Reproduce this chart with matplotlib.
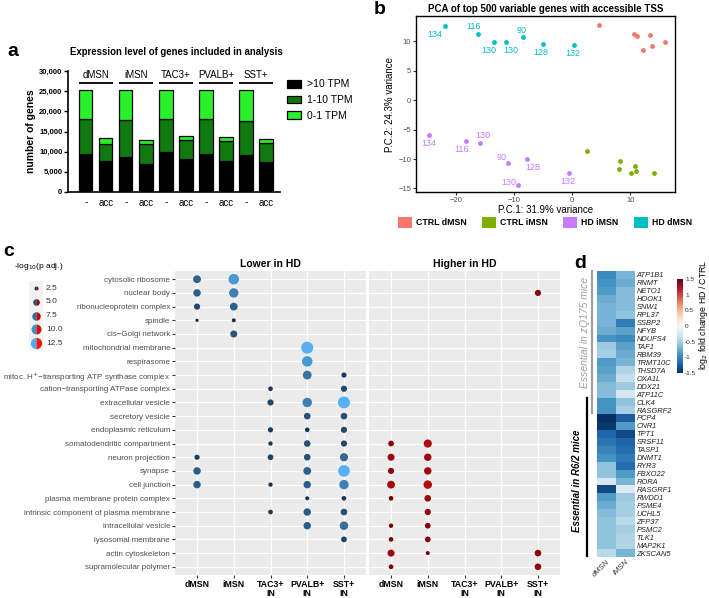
import numpy as np
import matplotlib
matplotlib.use("Agg")
import matplotlib.pyplot as plt
import matplotlib.ticker as ticker
from matplotlib.colors import LinearSegmentedColormap, Normalize
from matplotlib.lines import Line2D
from matplotlib.patches import Patch, Rectangle

plt.rcParams["font.family"] = ["Liberation Sans", "DejaVu Sans"]

W, H = 709, 598

def box(l, t, r, b):
    # pixel box (left, top, right, bottom) -> figure fraction rect
    return [l / W, 1 - b / H, (r - l) / W, (b - t) / H]

def fx(x):
    return x / W

def fy(y):
    return 1 - y / H

# ── a: expression level ───────────────────────────────────────────────────────
GROUPS = ["dMSN", "iMSN", "TAC3+", "PVALB+", "SST+"]
BAR_LABELS = ["-", "acc"] * 5
TPM_HIGH = [9400, 7700, 8700, 6900, 9900, 8300, 9400, 7750, 9100, 7400]
TPM_MID  = [8800, 4200, 9100, 5000, 8300, 4700, 8600, 4850, 8600, 4700]
TPM_LOW  = [7000, 1600, 7400, 1000, 7000, 1000, 7200, 1000, 7500, 1100]
TPM_NAMES  = [">10 TPM", "1-10 TPM", "0-1 TPM"]
TPM_COLORS = ["#000000", "#107A10", "#2BEF2B"]

# ── b: PCA ────────────────────────────────────────────────────────────────────
PCA_GROUPS = ["CTRL dMSN", "CTRL iMSN", "HD iMSN", "HD dMSN"]
PCA_COLORS = ["#F8766D", "#7CAE00", "#C77CFF", "#00BFC4"]
CTRL_DMSN_PC1 = [4.6, 10.7, 11.2, 13.45, 12.25, 13.7, 16.0]
CTRL_DMSN_PC2 = [12.85, 11.3, 10.9, 11.1, 8.5, 9.15, 9.9]
CTRL_IMSN_PC1 = [2.6, 8.3, 8.1, 10.8, 10.2, 11.0, 14.1]
CTRL_IMSN_PC2 = [-8.66, -10.36, -11.7, -11.2, -12.3, -12.0, -12.4]
HD_IMSN_PC1 = [-24.7, -18.3, -15.9, -11.0, -7.7, -9.3, -0.6]
HD_IMSN_PC2 = [-5.97, -6.9, -7.2, -10.7, -10.0, -14.35, -12.4]
HD_IMSN_IDS = ["134", "116", "130", "90", "128", "130", "132"]
HD_DMSN_PC1 = [-21.9, -16.2, -13.5, -11.45, -8.45, -5.1, 0.27]
HD_DMSN_PC2 = [12.6, 11.3, 9.8, 9.8, 10.7, 9.5, 9.3]
HD_DMSN_IDS = ["134", "116", "130", "130", "90", "128", "132"]
# label offsets (points) for the mouse ids
HD_IMSN_OFFS = [(0, -6), (-3, -6), (2, 5), (-5, 4.3), (4, -6), (-7, 1.7), (-1, -6.2)]
HD_DMSN_OFFS = [(-7.5, -6), (-3.6, 5), (-3.8, -6), (3.4, -6), (-1.4, 4.8), (-1, -6), (-0.5, -6)]

# ── c: GO cellular component dot plot ─────────────────────────────────────────
GO_TERMS = [
    "cytosolic ribosome", "nuclear body", "ribonucleoprotein complex", "spindle",
    "cis\u2212Golgi network", "mitochondrial membrane", "respirasome",
    "mitoc. H$^{+}$\u2212transporting ATP synthase complex",
    "cation\u2212transporting ATPase complex", "extracellular vesicle",
    "secretory vesicle", "endoplasmic reticulum", "somatodendritic compartment",
    "neuron projection", "synapse", "cell junction",
    "plasma membrane protein complex", "intrinsic component of plasma membrane",
    "intracellular vesicle", "lysosomal membrane", "actin cytoskeleton",
    "supramolecular polymer",
]
CELL_TYPES = ["dMSN", "iMSN", "TAC3+\nIN", "PVALB+\nIN", "SST+\nIN"]
n = np.nan
# -log10(p adj.), columns: dMSN, iMSN, TAC3+, PVALB+, SST+
LOWER_P = np.array([
    [6.5, 11.0, n, n, n],
    [6.0, 9.0, n, n, n],
    [4.5, 6.5, n, n, n],
    [2.0, 2.5, n, n, n],
    [n, 5.5, n, n, n],
    [n, n, n, 14.0, n],
    [n, n, n, 11.0, n],
    [n, n, n, 8.0, 3.5],
    [n, n, 3.0, n, 4.5],
    [n, n, 4.5, 9.0, 14.0],
    [n, n, n, 5.0, 5.0],
    [n, n, 3.5, 3.0, 4.5],
    [n, n, 2.7, 5.0, 4.5],
    [3.5, n, 4.0, 5.0, 7.0],
    [6.0, n, n, 6.5, 13.0],
    [6.0, n, 2.7, 6.0, 9.0],
    [n, n, n, 2.5, 3.0],
    [n, n, 3.0, 6.0, 5.0],
    [n, n, n, 6.0, 7.5],
    [n, n, n, n, 4.0],
    [n, n, n, n, n],
    [n, n, n, n, n],
])
HIGHER_P = np.array([
    [n, n, n, n, n],
    [n, n, n, n, 4.5],
    [n, n, n, n, n],
    [n, n, n, n, n],
    [n, n, n, n, n],
    [n, n, n, n, n],
    [n, n, n, n, n],
    [n, n, n, n, n],
    [n, n, n, n, n],
    [n, n, n, n, n],
    [n, n, n, n, n],
    [n, n, n, n, n],
    [4.0, 7.0, n, n, n],
    [5.5, 6.0, n, n, n],
    [4.5, 6.0, n, n, n],
    [6.5, 7.5, n, n, n],
    [3.0, 5.0, n, n, n],
    [n, 4.5, n, n, n],
    [2.8, 4.0, n, n, n],
    [3.0, 4.0, n, n, n],
    [5.5, 2.5, n, n, 5.0],
    [3.0, n, n, n, 5.0],
])
LEGEND_P = [2.5, 5.0, 7.5, 10.0, 12.5]

# ── d: heatmap ────────────────────────────────────────────────────────────────
GENES = ["ATP1B1", "RNMT", "NETO1", "HOOK1", "SNW1", "RPL37", "SSBP2", "NFYB",
         "NDUFS4", "TAF1", "RBM39", "TRMT10C", "THSD7A", "OXA1L", "DDX21",
         "ATP11C", "CLK4", "RASGRF2", "PCP4", "CNR1", "TPT1", "SRSF11", "TASP1",
         "DNMT1", "RYR3", "FBXO22", "RORA", "RASGRF1", "RWDD1", "PSME4", "UCHL5",
         "ZFP37", "PSMC2", "TLK1", "MAP2K1", "ZKSCAN5"]
LFC_DMSN = [-0.95, -0.9, -0.85, -0.75, -0.7, -0.7, -0.7, -0.75, -0.9, -0.55,
            -0.5, -0.85, -0.8, -0.75, -0.65, -0.65, -0.9, -0.9, -1.5, -1.45,
            -1.2, -1.1, -1.0, -0.9, -0.6, -0.6, -0.25, -1.35, -0.85, -0.75,
            -0.65, -0.6, -0.6, -0.6, -0.6, -0.4]
LFC_IMSN = [-0.7, -0.75, -0.65, -0.65, -0.65, -0.6, -1.05, -0.8, -0.95, -0.8,
            -0.75, -0.7, -0.45, -0.35, -0.55, -0.25, -0.6, -0.5, -1.25, -0.85,
            -1.35, -1.2, -1.15, -1.05, -1.15, -0.85, -0.7, -0.2, -0.55, -0.5,
            -0.5, -0.4, -0.5, -0.45, -0.45, -0.7]

fig = plt.figure(figsize=(W / 100, H / 100), dpi=100, facecolor="white")

# ══ panel a ═══════════════════════════════════════════════════════════════════
ax = fig.add_axes(box(68, 71, 280, 192))
xpos = np.arange(len(BAR_LABELS))
bottom = np.zeros(len(BAR_LABELS))
for vals, col, name in zip([TPM_HIGH, TPM_MID, TPM_LOW], TPM_COLORS, TPM_NAMES):
    ax.bar(xpos, vals, width=0.67, bottom=bottom, color=col, edgecolor="black",
           linewidth=0.9, label=name)
    bottom += np.array(vals)
ax.set_xlim(-0.885, 9.7)
ax.set_ylim(0, 30000)
ax.yaxis.set_major_locator(ticker.MultipleLocator(5000))
ax.yaxis.set_major_formatter(ticker.FuncFormatter(lambda v, _: f"{int(v):,}"))
ax.set_xticks(xpos)
ax.set_xticklabels(BAR_LABELS, fontsize=7)
ax.tick_params(axis="x", length=0, pad=4)
ax.tick_params(axis="y", length=3, width=1, labelsize=5.5, pad=1)
for lab in ax.get_yticklabels():
    lab.set_fontweight("bold")
for s in ["top", "right"]:
    ax.spines[s].set_visible(False)
for s in ["left", "bottom"]:
    ax.spines[s].set_linewidth(1.2)
ax.set_ylabel("number of genes", fontsize=7.5, fontweight="bold", labelpad=2)
for g, name in enumerate(GROUPS):
    ax.plot([2 * g - 0.34, 2 * g + 1.34], [27000, 27000], color="black",
            linewidth=1.3, clip_on=False, solid_capstyle="butt")
    ax.text(2 * g + 0.5, 28900, name, ha="center", va="center", fontsize=7)
ax.legend(loc="upper left", bbox_to_anchor=(fx(278), fy(70)),
          bbox_transform=fig.transFigure, frameon=False, fontsize=7.5,
          handlelength=1.3, handleheight=0.75, labelspacing=0.55,
          handletextpad=0.6)
fig.text(fx(70), fy(52), "Expression level of genes included in analysis",
         fontsize=6.9, fontweight="bold", va="center")

# ══ panel b ═══════════════════════════════════════════════════════════════════
ax = fig.add_axes(box(416, 16, 675, 192))
pc1 = [CTRL_DMSN_PC1, CTRL_IMSN_PC1, HD_IMSN_PC1, HD_DMSN_PC1]
pc2 = [CTRL_DMSN_PC2, CTRL_IMSN_PC2, HD_IMSN_PC2, HD_DMSN_PC2]
for xs, ys, col in zip(pc1, pc2, PCA_COLORS):
    ax.scatter(xs, ys, s=12, color=col, linewidths=0, zorder=3)
for xs, ys, ids, offs, col in [
        (HD_IMSN_PC1, HD_IMSN_PC2, HD_IMSN_IDS, HD_IMSN_OFFS, PCA_COLORS[2]),
        (HD_DMSN_PC1, HD_DMSN_PC2, HD_DMSN_IDS, HD_DMSN_OFFS, PCA_COLORS[3])]:
    for x, y, t, o in zip(xs, ys, ids, offs):
        ax.annotate(t, (x, y), xytext=o, textcoords="offset points",
                    ha="center", va="center", fontsize=6.5, color=col)
ax.set_xlim(-26.9, 17.7)
ax.set_ylim(-15.6, 14.3)
ax.set_xticks([-20, -10, 0, 10])
ax.set_yticks([-15, -10, -5, 0, 5, 10])
ax.tick_params(length=2, color="#333333", labelsize=5.5, labelcolor="#4D4D4D", pad=1.5)
for s in ax.spines.values():
    s.set_linewidth(1.0)
ax.set_xlabel("P.C.1: 31.9% variance", fontsize=7, labelpad=1)
ax.set_ylabel("P.C.2: 24.3% variance", fontsize=7, labelpad=2)
ax.set_title("PCA of top 500 variable genes with accessible TSS", fontsize=7,
             fontweight="bold", pad=3)
handles = [Patch(facecolor=c, edgecolor="none") for c in PCA_COLORS]
fig.legend(handles, PCA_GROUPS, loc="center", bbox_to_anchor=(fx(545), fy(222.5)),
           ncol=4, frameon=False, prop={"weight": "bold", "size": 6.3},
           handlelength=1.6, handleheight=1.6, columnspacing=1.7,
           handletextpad=0.5)

# ══ panel c ═══════════════════════════════════════════════════════════════════
blue_cmap = LinearSegmentedColormap.from_list("blues", ["#132B43", "#56B1F7"])
red_cmap = LinearSegmentedColormap.from_list("reds", ["#6E0008", "#FF1414"])
pnorm = Normalize(2.0, 13.0)

def dot_area(v):
    # area in pt^2 ; diameter ~4 px at 2.5 and ~11.3 px at 12.5
    return 0.5184 * np.maximum(16 + (np.asarray(v) - 2.5) * 11.2, 9)

panels = [("Lower in HD", LOWER_P, blue_cmap, 175, 366),
          ("Higher in HD", HIGHER_P, red_cmap, 369, 560)]
for i, (title, mat, cmap, left, right) in enumerate(panels):
    ax = fig.add_axes(box(left, 271, right, 575))
    ax.set_facecolor("#EBEBEB")
    rows, cols = np.nonzero(~np.isnan(mat))
    vals = mat[rows, cols]
    ax.scatter(cols, rows, s=dot_area(vals), c=vals, cmap=cmap, norm=pnorm,
               linewidths=0, zorder=3)
    ax.set_xlim(-0.6, 4.6)
    ax.set_ylim(len(GO_TERMS) - 0.4, -0.6)
    ax.set_xticks(range(len(CELL_TYPES)))
    ax.set_xticklabels(CELL_TYPES, fontsize=6.3, fontweight="bold", linespacing=1.0)
    ax.set_yticks(range(len(GO_TERMS)))
    ax.set_axisbelow(True)
    ax.grid(True, color="white", linewidth=0.9)
    for s in ax.spines.values():
        s.set_visible(False)
    ax.tick_params(axis="x", length=2, color="#333333", pad=1.5)
    if i == 0:
        ax.set_yticklabels(GO_TERMS, fontsize=5.8, color="#4D4D4D")
        ax.tick_params(axis="y", length=2, color="#333333", pad=1.5)
    else:
        ax.tick_params(axis="y", length=0, labelleft=False)
    ax.set_title(title, fontsize=7.5, fontweight="bold", pad=3)

# size/colour legend with half-blue, half-red keys
fig.text(fx(14), fy(267), "-log$_{10}$(p adj.)", fontsize=6, va="center")
lax = fig.add_axes(box(20, 280, 80, 352))
lax.set_xlim(20, 80)
lax.set_ylim(352, 280)
lax.axis("off")
for k, v in enumerate(LEGEND_P):
    yk = 288 + 13.8 * k
    lax.add_patch(Rectangle((29, yk - 6.9), 14, 13.8, facecolor="#F2F2F2",
                            edgecolor="none"))
    d_pt = np.sqrt(dot_area(v))
    lax.plot(36, yk, marker="o", linestyle="", markersize=d_pt, fillstyle="left",
             markerfacecolor=blue_cmap(pnorm(v)),
             markerfacecoloralt=red_cmap(pnorm(v)), markeredgewidth=0)
    lax.text(46, yk, f"{v:.1f}", fontsize=6, va="center", color="#333333")

# ══ panel d ═══════════════════════════════════════════════════════════════════
ax = fig.add_axes(box(597, 271, 635, 557))
lfc = np.column_stack([LFC_DMSN, LFC_IMSN])
im = ax.imshow(lfc, aspect="auto", cmap="RdBu_r", vmin=-1.5, vmax=1.5,
               interpolation="nearest")
ax.yaxis.tick_right()
ax.set_yticks(range(len(GENES)))
ax.set_yticklabels(GENES, fontsize=5.4, style="italic", color="#222222")
ax.set_xticks([0, 1])
ax.set_xticklabels(["dMSN", "iMSN"], fontsize=5.5, style="italic",
                   rotation=45, ha="right", va="top", rotation_mode="anchor",
                   color="#333333")
ax.tick_params(length=0, pad=1)
for s in ax.spines.values():
    s.set_visible(False)

cax = fig.add_axes(box(677, 279, 683, 373))
cb = fig.colorbar(im, cax=cax)
cb.outline.set_visible(False)
cb.set_ticks([-1.5, -1, -0.5, 0, 0.5, 1, 1.5])
cb.set_ticklabels(["-1.5", "-1", "-0.5", "0", "0.5", "1", "1.5"])
cax.tick_params(length=0, labelsize=4.6, pad=1.5, labelcolor="#333333")
fig.text(fx(703), fy(315), "log$_2$ fold change HD / CTRL", rotation=90,
         fontsize=6.3, ha="center", va="center")

fig.add_artist(Line2D([fx(592), fx(592)], [fy(271), fy(413)], color="#A0A0A0",
                      linewidth=1.6))
fig.add_artist(Line2D([fx(586.7), fx(586.7)], [fy(398), fy(556)], color="black",
                      linewidth=1.6))
fig.text(fx(585.5), fy(332), "Essential in zQ175 mice", rotation=90, fontsize=7.5,
         style="italic", color="#A0A0A0", ha="center", va="center")
fig.text(fx(577.5), fy(481), "Essential in R6/2 mice", rotation=90, fontsize=7,
         style="italic", fontweight="bold", ha="center", va="center")

# panel letters
for letter, x, y in [("a", 13, 51), ("b", 380, 10), ("c", 9, 251), ("d", 580, 263)]:
    fig.text(fx(x), fy(y), letter, fontsize=14, fontweight="bold",
             ha="center", va="center")

fig.savefig("out.png", dpi=100, facecolor="white")
